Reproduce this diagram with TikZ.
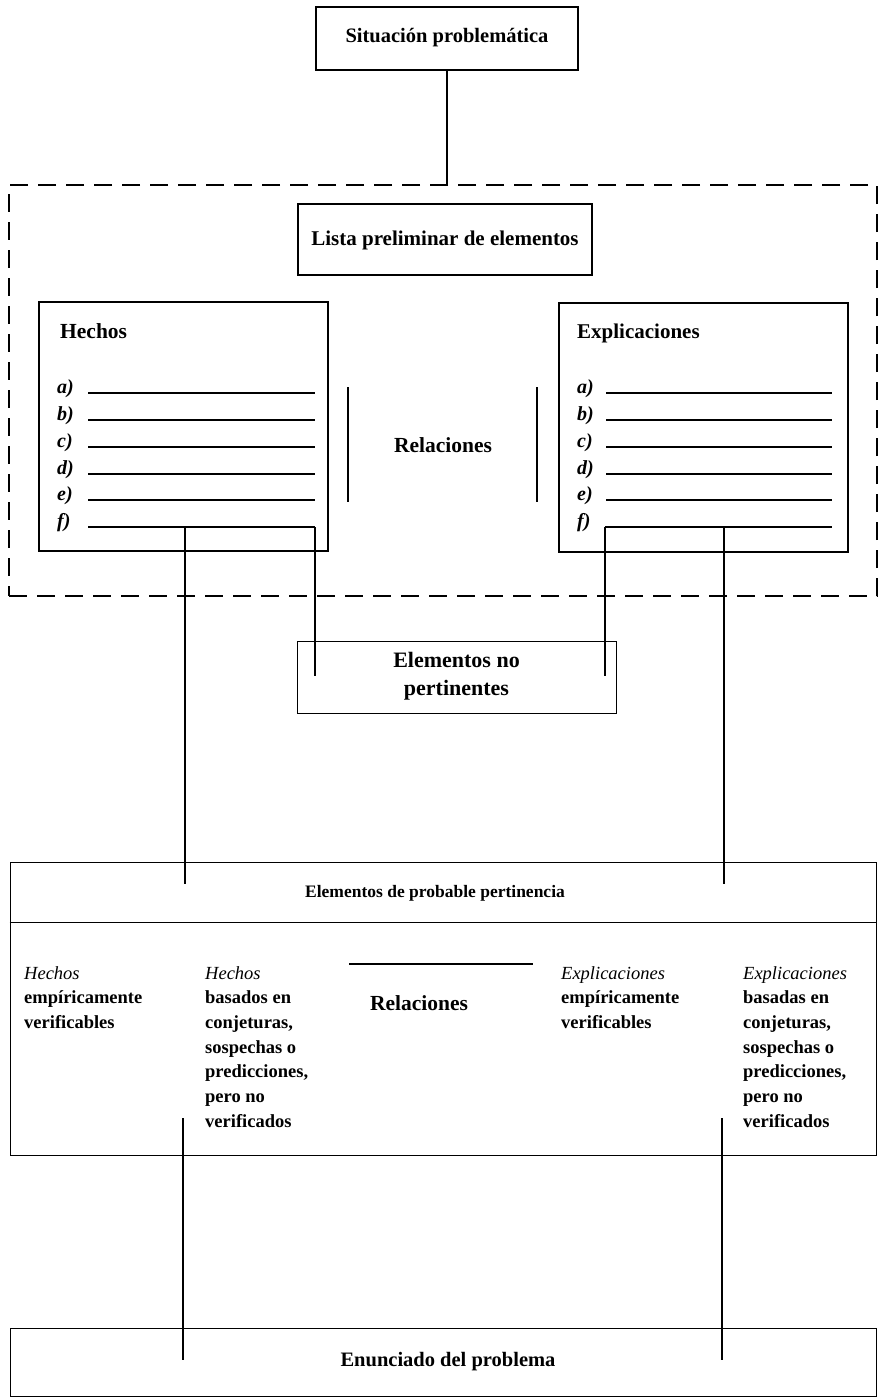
\documentclass[tikz,border=0pt]{standalone}
\usepackage{fontspec}
\setmainfont{Liberation Serif}
\begin{document}
\begin{tikzpicture}[x=1pt,y=-1pt,
  boxline/.style={draw=black,line width=1.3pt,inner sep=0pt},
  conn/.style={draw=black,line width=1.8pt},
  thinconn/.style={draw=black,line width=1.3pt},
  dashframe/.style={draw=black,line width=1.4pt,dash pattern=on 18pt off 10pt,inner sep=0pt},
  listline/.style={draw=black,line width=1.2pt},
  head/.style={font=\fontsize{20.5}{24}\selectfont\bfseries,inner sep=0pt},
  lbl/.style={font=\fontsize{20}{24}\selectfont\bfseries\itshape,inner sep=0pt,anchor=base west},
  coltext/.style={font=\fontsize{18.5}{24.7}\selectfont\bfseries,inner sep=0pt,anchor=north west,align=left},
]
\useasboundingbox (0,0) rectangle (884,1400);
\fill[white] (0,0) rectangle (884,1400);

% top box
\node[boxline,minimum width=262pt,minimum height=63pt] (sit) at (447,38.5) {};
\node[head] (sittxt) at (447,38) {Situación problemática};

% dashed region
\node[dashframe,minimum width=868pt,minimum height=411pt] (region) at (443,390.5) {};
\draw[conn] (sit.south) -- (sit.south |- region.north);

% lista preliminar
\node[boxline,minimum width=294pt,minimum height=71pt] (lista) at (445,239.5) {};
\node[head,font=\fontsize{21}{24}\selectfont\bfseries] (listatxt) at (445,240) {Lista preliminar de elementos};

% Hechos box
\node[boxline,minimum width=289pt,minimum height=249pt] (hechos) at (183.5,426.5) {};
\node[head,anchor=base west,font=\fontsize{21.5}{24}\selectfont\bfseries] (hechostxt) at (60,338) {Hechos};
% Explicaciones box
\node[boxline,minimum width=289pt,minimum height=249pt] (expl) at (703.5,427.5) {};
\node[head,anchor=base west,font=\fontsize{21}{24}\selectfont\bfseries] (expltxt) at (577,338) {Explicaciones};

\foreach \l/\yy [count=\i] in {a/393,b/420,c/447,d/474,e/500,f/527}{
  \node[lbl] (hl\i) at (57,\yy) {\l)};
  \node[lbl] (el\i) at (577,\yy) {\l)};
}
\foreach \yy in {393,420,447,474,500}{
  \draw[listline] (88,\yy) -- (315,\yy);
  \draw[listline] (606,\yy) -- (832,\yy);
}
\coordinate (hfL) at (88,527);
\coordinate (hfM) at (185,527);
\coordinate (hfR) at (315,527);
\coordinate (efL) at (605,527);
\coordinate (efM) at (724,527);
\coordinate (efR) at (832,527);
\draw[listline] (hfL) -- (hfR);
\draw[listline] (efL) -- (efR);

% Relaciones (top)
\coordinate (rb1t) at (348,387);
\coordinate (rb1b) at (348,502);
\coordinate (rb2t) at (537,387);
\coordinate (rb2b) at (537,502);
\draw[conn] (rb1t) -- (rb1b);
\draw[conn] (rb2t) -- (rb2b);
\node[head,font=\fontsize{21.5}{24}\selectfont\bfseries] (reltop) at (443,445) {Relaciones};

% Elementos no pertinentes
\node[boxline,line width=1pt,minimum width=319pt,minimum height=72pt] (enp) at (456.5,677) {};
\node[head,align=center,font=\fontsize{22}{28}\selectfont\bfseries] (enptxt) at (456.5,676) {Elementos no\\pertinentes};
\coordinate (enpL) at (315,676);
\coordinate (enpR) at (605,676);
\draw[conn] (hfR) -- (enpL);
\draw[thinconn] (efL) -- (enpR);

% Elementos de probable pertinencia
\node[boxline,line width=1pt,minimum width=866pt,minimum height=293pt] (prob) at (443,1008.5) {};
\draw[line width=1pt] (prob.west |- 0,922) -- (prob.east |- 0,922);
\node[head,font=\fontsize{17.5}{22}\selectfont\bfseries] (probtxt) at (435,893) {Elementos de probable pertinencia};
\coordinate (probL) at (185,884);
\coordinate (probR) at (724,884);
\draw[conn] (hfM) -- (probL);
\draw[thinconn] (efM) -- (probR);

% columns
\node[coltext] (c1) at (24,966) {\textmd{\itshape Hechos}\\empíricamente\\verificables};
\node[coltext] (c2) at (205,966) {\textmd{\itshape Hechos}\\basados en\\conjeturas,\\sospechas o\\predicciones,\\pero no\\verificados};
\coordinate (rl1) at (349,964);
\coordinate (rl2) at (533,964);
\draw[thinconn] (rl1) -- (rl2);
\node[head,font=\fontsize{21.5}{24}\selectfont\bfseries] (relbot) at (419,1003) {Relaciones};
\node[coltext] (c4) at (561,966) {\textmd{\itshape Explicaciones}\\empíricamente\\verificables};
\node[coltext] (c5) at (743,966) {\textmd{\itshape Explicaciones}\\basadas en\\conjeturas,\\sospechas o\\predicciones,\\pero no\\verificados};

% Enunciado del problema
\node[boxline,line width=1pt,minimum width=866pt,minimum height=68pt] (enun) at (443,1362) {};
\node[head] (enuntxt) at (448,1362) {Enunciado del problema};
\coordinate (lowL1) at (183,1118);
\coordinate (lowL2) at (183,1360);
\coordinate (lowR1) at (722,1118);
\coordinate (lowR2) at (722,1360);
\draw[thinconn] (lowL1) -- (lowL2);
\draw[thinconn] (lowR1) -- (lowR2);
\end{tikzpicture}
\end{document}
